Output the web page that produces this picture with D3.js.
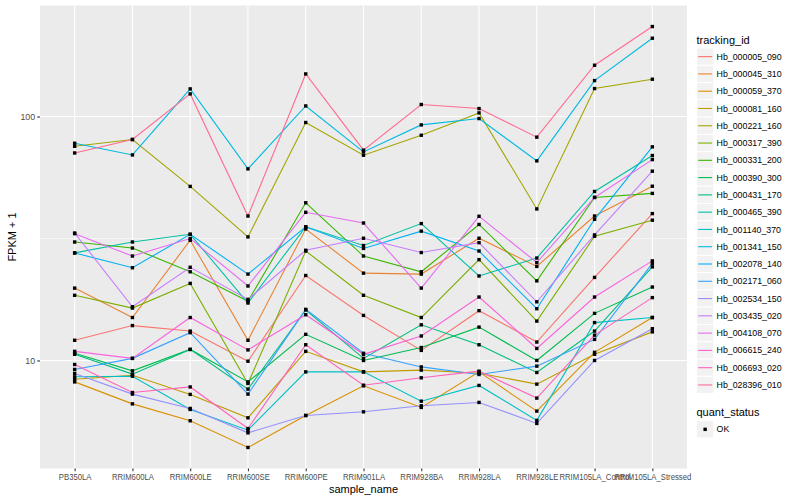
<!DOCTYPE html>
<html>
<head>
<meta charset="utf-8">
<script src="https://cdn.jsdelivr.net/npm/d3@7/dist/d3.min.js"></script>
<style>
  body { margin: 0; background: #fff; }
  text { font-family: "Liberation Sans", Arial, Helvetica, sans-serif; }
</style>
</head>
<body>
<div id="chart"></div>
<script>
// sample_name categories (x axis)
var samples = ["PB350LA", "RRIM600LA", "RRIM600LE", "RRIM600SE", "RRIM600PE", "RRIM901LA",
    "RRIM928BA", "RRIM928LA", "RRIM928LE", "RRIM105LA_Control", "RRIM105LA_Stressed"];

// FPKM + 1 per tracking_id, one value per sample
var hb_000005_090 = [12.1, 13.9, 13.2, 9.93, 22.3, 15.3, 11.0, 16.0, 11.9, 21.9, 40.0];
var hb_000045_310 = [19.8, 15.0, 31.1, 12.1, 34.6, 22.8, 22.6, 31.7, 24.3, 39.1, 51.8];
var hb_000059_370 = [8.17, 6.64, 5.66, 4.40, 5.95, 7.87, 6.42, 8.98, 6.20, 10.8, 15.0];
var hb_000081_160 = [8.38, 8.70, 7.26, 5.82, 10.9, 8.98, 9.13, 8.87, 8.00, 10.6, 13.1];
var hb_000221_160 = [75.5, 80.5, 51.7, 32.1, 94.5, 69.4, 83.8, 103.5, 41.8, 130.2, 142.2];
var hb_000317_390 = [18.5, 16.4, 20.7, 8.05, 28.1, 18.5, 15.0, 25.9, 14.5, 32.3, 37.6];
var hb_000331_200 = [30.6, 28.9, 23.1, 17.5, 44.3, 26.8, 23.1, 36.1, 21.2, 46.6, 48.4];
var hb_000390_300 = [10.7, 9.07, 11.1, 8.17, 12.8, 10.0, 11.3, 13.7, 10.0, 15.6, 20.0];
var hb_000431_170 = [10.6, 8.79, 11.1, 7.63, 16.1, 10.2, 14.0, 11.6, 8.93, 13.2, 24.2];
var hb_000465_390 = [27.6, 30.6, 32.9, 17.2, 35.3, 29.6, 36.4, 22.2, 26.3, 49.3, 69.2];
var hb_001140_370 = [8.57, 8.62, 6.30, 5.18, 8.98, 8.98, 6.81, 7.90, 5.68, 14.3, 15.0];
var hb_001341_150 = [77.7, 69.6, 129.8, 61.0, 110.5, 71.6, 92.4, 98.1, 65.8, 140.4, 209.4];
var hb_002078_140 = [27.6, 24.0, 32.9, 22.6, 35.3, 28.8, 33.9, 28.1, 16.3, 37.9, 75.1];
var hb_002171_060 = [9.19, 10.2, 13.0, 7.28, 16.2, 10.7, 9.41, 8.76, 9.48, 12.2, 25.0];
var hb_002534_150 = [8.85, 7.28, 6.36, 5.05, 5.95, 6.16, 6.52, 6.73, 5.52, 10.0, 13.5];
var hb_003435_020 = [33.3, 16.6, 24.1, 17.8, 28.3, 31.7, 27.7, 30.4, 17.4, 32.7, 59.7];
var hb_004108_070 = [33.1, 26.8, 31.6, 20.2, 40.5, 36.6, 19.8, 39.0, 25.2, 46.6, 66.6];
var hb_006615_240 = [10.9, 10.2, 15.0, 11.05, 15.4, 10.6, 12.6, 18.2, 11.2, 18.2, 25.6];
var hb_006693_020 = [9.63, 7.39, 7.79, 5.26, 11.6, 7.92, 8.49, 9.04, 7.01, 12.7, 18.1];
var hb_028396_010 = [70.9, 80.5, 123.8, 39.1, 149.5, 72.8, 112.0, 107.8, 82.3, 162.3, 233.8];

var trackingIds = ["Hb_000005_090", "Hb_000045_310", "Hb_000059_370", "Hb_000081_160", "Hb_000221_160",
    "Hb_000317_390", "Hb_000331_200", "Hb_000390_300", "Hb_000431_170", "Hb_000465_390",
    "Hb_001140_370", "Hb_001341_150", "Hb_002078_140", "Hb_002171_060", "Hb_002534_150",
    "Hb_003435_020", "Hb_004108_070", "Hb_006615_240", "Hb_006693_020", "Hb_028396_010"];
var seriesValues = [hb_000005_090, hb_000045_310, hb_000059_370, hb_000081_160, hb_000221_160,
    hb_000317_390, hb_000331_200, hb_000390_300, hb_000431_170, hb_000465_390,
    hb_001140_370, hb_001341_150, hb_002078_140, hb_002171_060, hb_002534_150,
    hb_003435_020, hb_004108_070, hb_006615_240, hb_006693_020, hb_028396_010];

var yTicks = [10, 100];

// ggplot default hue palette for 20 levels
var palette = ["#F8766D", "#EA8331", "#D89000", "#C09B00", "#A3A500", "#7CAE00", "#39B600", "#00BB4E",
    "#00BF7D", "#00C1A3", "#00BFC4", "#00BAE0", "#00B0F6", "#35A2FF", "#9590FF", "#C77CFF",
    "#E76BF3", "#FA62DB", "#FF62BC", "#FF6C91"];

var series = trackingIds.map(function (id, i) {
    return {id: id, color: palette[i], values: seriesValues[i].map(function (v, j) {
        return {sample: samples[j], value: v};
    })};
});

var width = 800, height = 500;
var panel = {left: 40, right: 687, top: 5.5, bottom: 468.5};

var svg = d3.select("#chart").append("svg")
    .attr("width", width)
    .attr("height", height);

svg.append("rect").attr("width", width).attr("height", height).attr("fill", "#fff");

var x = d3.scalePoint()
    .domain(samples)
    .range([panel.left, panel.right])
    .padding(0.6);

// log extent expanded by 5% like ggplot
var all = d3.merge(seriesValues);
var lo = Math.log10(d3.min(all)), hi = Math.log10(d3.max(all));
var pad = (hi - lo) * 0.05;
var y = d3.scaleLog()
    .domain([Math.pow(10, lo - pad), Math.pow(10, hi + pad)])
    .range([panel.bottom, panel.top]);

svg.append("rect")
    .attr("x", panel.left).attr("y", panel.top)
    .attr("width", panel.right - panel.left).attr("height", panel.bottom - panel.top)
    .attr("fill", "#EBEBEB");

var grid = svg.append("g");
grid.append("line")
    .attr("x1", panel.left).attr("x2", panel.right)
    .attr("y1", y(Math.sqrt(1000))).attr("y2", y(Math.sqrt(1000)))
    .attr("stroke", "#fff").attr("stroke-width", 0.55);
grid.selectAll(".hmaj").data(yTicks).enter().append("line")
    .attr("x1", panel.left).attr("x2", panel.right)
    .attr("y1", function (d) { return y(d); })
    .attr("y2", function (d) { return y(d); })
    .attr("stroke", "#fff").attr("stroke-width", 1.1);
grid.selectAll(".vmaj").data(samples).enter().append("line")
    .attr("x1", function (d) { return x(d); })
    .attr("x2", function (d) { return x(d); })
    .attr("y1", panel.top).attr("y2", panel.bottom)
    .attr("stroke", "#fff").attr("stroke-width", 1.1);

var line = d3.line()
    .x(function (d) { return x(d.sample); })
    .y(function (d) { return y(d.value); });

svg.append("g").selectAll("path")
    .data(series).enter().append("path")
    .attr("d", function (d) { return line(d.values); })
    .attr("fill", "none")
    .attr("stroke", function (d) { return d.color; })
    .attr("stroke-width", 1.1);

var pts = [];
series.forEach(function (s) { s.values.forEach(function (v) { pts.push(v); }); });
var ps = 3.4;
svg.append("g").selectAll("rect")
    .data(pts).enter().append("rect")
    .attr("x", function (d) { return x(d.sample) - ps / 2; })
    .attr("y", function (d) { return y(d.value) - ps / 2; })
    .attr("width", ps).attr("height", ps)
    .attr("fill", "#000");

// axes
var yAxis = d3.axisLeft(y).tickValues(yTicks).tickFormat(d3.format("d")).tickSize(2.75).tickPadding(2.2);
var gy = svg.append("g").attr("transform", "translate(" + panel.left + ",0)").call(yAxis);
var xAxis = d3.axisBottom(x).tickSize(2.75).tickPadding(2.2);
var gx = svg.append("g").attr("transform", "translate(0," + panel.bottom + ")").call(xAxis);
[gy, gx].forEach(function (g) {
    g.select(".domain").remove();
    g.selectAll(".tick line").attr("stroke", "#333333").attr("stroke-width", 1.1);
    g.selectAll(".tick text").attr("fill", "#4D4D4D")
        .style("font-size", "8.8px")
        .style("font-family", "'Liberation Sans', Arial, sans-serif");
});
// the sample labels are narrower in the original
gx.selectAll(".tick text").attr("transform", "scale(0.88,1)");

svg.append("text")
    .attr("x", (panel.left + panel.right) / 2).attr("y", 493)
    .attr("text-anchor", "middle")
    .style("font-size", "11px")
    .text("sample_name");

svg.append("text")
    .attr("transform", "translate(16," + ((panel.top + panel.bottom) / 2) + ") rotate(-90)")
    .attr("text-anchor", "middle")
    .style("font-size", "11px")
    .text("FPKM + 1");

// legend
var lg = svg.append("g");
var keySize = 17.28, keyX = 696.5, key0 = 48;
lg.append("text").attr("x", keyX).attr("y", 43.5).style("font-size", "11px").text("tracking_id");

var keys = lg.selectAll(".key").data(series).enter().append("g")
    .attr("transform", function (d, i) { return "translate(" + keyX + "," + (key0 + i * keySize) + ")"; });
keys.append("rect")
    .attr("width", keySize).attr("height", keySize)
    .attr("fill", "#F2F2F2").attr("stroke", "#fff").attr("stroke-width", 1);
keys.append("line")
    .attr("x1", 1.7).attr("x2", keySize - 1.7)
    .attr("y1", keySize / 2).attr("y2", keySize / 2)
    .attr("stroke", function (d) { return d.color; }).attr("stroke-width", 1.1);
keys.append("text")
    .attr("x", keySize + 2.8).attr("y", keySize / 2 + 3.1)
    .style("font-size", "8.8px")
    .text(function (d) { return d.id; });

lg.append("text").attr("x", keyX).attr("y", 416).style("font-size", "11px").text("quant_status");
var okKey = lg.append("g").attr("transform", "translate(" + keyX + ",420.7)");
okKey.append("rect").attr("width", keySize).attr("height", keySize)
    .attr("fill", "#F2F2F2").attr("stroke", "#fff").attr("stroke-width", 1);
okKey.append("rect").attr("x", keySize / 2 - ps / 2).attr("y", keySize / 2 - ps / 2)
    .attr("width", ps).attr("height", ps).attr("fill", "#000");
okKey.append("text").attr("x", keySize + 2.8).attr("y", keySize / 2 + 3.1)
    .style("font-size", "8.8px").text("OK");
</script>
</body>
</html>
